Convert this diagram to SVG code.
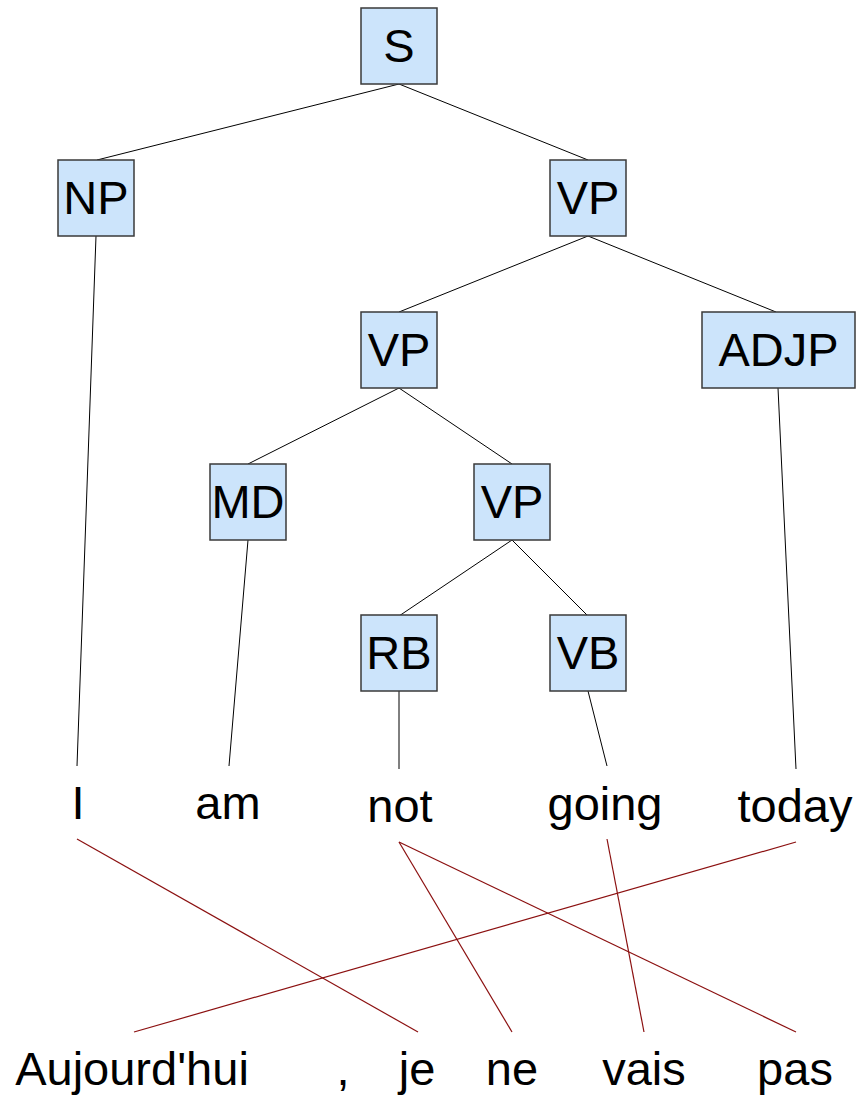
<svg xmlns="http://www.w3.org/2000/svg" width="857" height="1096" viewBox="0 0 857 1096">
<style>
.box{fill:#cce4fb;stroke:#3a3a3a;stroke-width:1.5}
.lbl{font-family:"Liberation Sans",Arial,sans-serif;font-size:47px;fill:#000;text-anchor:middle}
.tree line{stroke:#000;stroke-width:1}
.align line{stroke:#8b1010;stroke-width:1.2}
</style>
<rect width="857" height="1096" fill="#fff"/>
<g id="connectors">
<g class="tree">
<line x1="399" y1="84" x2="97" y2="160"/>
<line x1="399" y1="84" x2="588" y2="160"/>
<line x1="588" y1="236" x2="399" y2="312"/>
<line x1="588" y1="236" x2="776" y2="312"/>
<line x1="399" y1="388" x2="248" y2="464"/>
<line x1="399" y1="388" x2="512" y2="464"/>
<line x1="512" y1="540" x2="399" y2="616"/>
<line x1="512" y1="540" x2="588" y2="616"/>
<line x1="96" y1="236" x2="77" y2="766"/>
<line x1="248" y1="540" x2="229" y2="766"/>
<line x1="399" y1="691" x2="399" y2="769"/>
<line x1="588" y1="691" x2="607" y2="766"/>
<line x1="778" y1="388" x2="796" y2="769"/>
</g>
<g class="align">
<line x1="77" y1="839" x2="418" y2="1032"/>
<line x1="796" y1="842" x2="134" y2="1032"/>
<line x1="399" y1="842" x2="512" y2="1032"/>
<line x1="399" y1="842" x2="796" y2="1032"/>
<line x1="607" y1="839" x2="644" y2="1032"/>
</g>
</g>
<g id="node-S"><rect class="box" x="361" y="8" width="76" height="76"/><text class="lbl" x="399" y="62">S</text></g>
<g id="node-NP"><rect class="box" x="58" y="160" width="76" height="76"/><text class="lbl" x="96" y="214">NP</text></g>
<g id="node-VP1"><rect class="box" x="550" y="160" width="76" height="76"/><text class="lbl" x="588" y="214">VP</text></g>
<g id="node-VP2"><rect class="box" x="361" y="312" width="76" height="76"/><text class="lbl" x="399" y="366">VP</text></g>
<g id="node-ADJP"><rect class="box" x="702" y="312" width="153" height="76"/><text class="lbl" x="778.5" y="366">ADJP</text></g>
<g id="node-MD"><rect class="box" x="210" y="464" width="76" height="76"/><text class="lbl" x="248" y="518">MD</text></g>
<g id="node-VP3"><rect class="box" x="474" y="464" width="76" height="76"/><text class="lbl" x="512" y="518">VP</text></g>
<g id="node-RB"><rect class="box" x="361" y="615" width="76" height="76"/><text class="lbl" x="399" y="669">RB</text></g>
<g id="node-VB"><rect class="box" x="550" y="615" width="76" height="76"/><text class="lbl" x="588" y="669">VB</text></g>
<g id="words-en">
<text class="lbl" x="78" y="819">I</text>
<text class="lbl" x="228" y="819">am</text>
<text class="lbl" x="400" y="822">not</text>
<text class="lbl" x="605" y="820">going</text>
<text class="lbl" x="795" y="822">today</text>
</g>
<g id="words-fr">
<text class="lbl" x="132" y="1085">Aujourd'hui</text>
<text class="lbl" x="343" y="1085">,</text>
<text class="lbl" x="417" y="1085">je</text>
<text class="lbl" x="512" y="1085">ne</text>
<text class="lbl" x="644" y="1085">vais</text>
<text class="lbl" x="795" y="1085">pas</text>
</g>
</svg>
